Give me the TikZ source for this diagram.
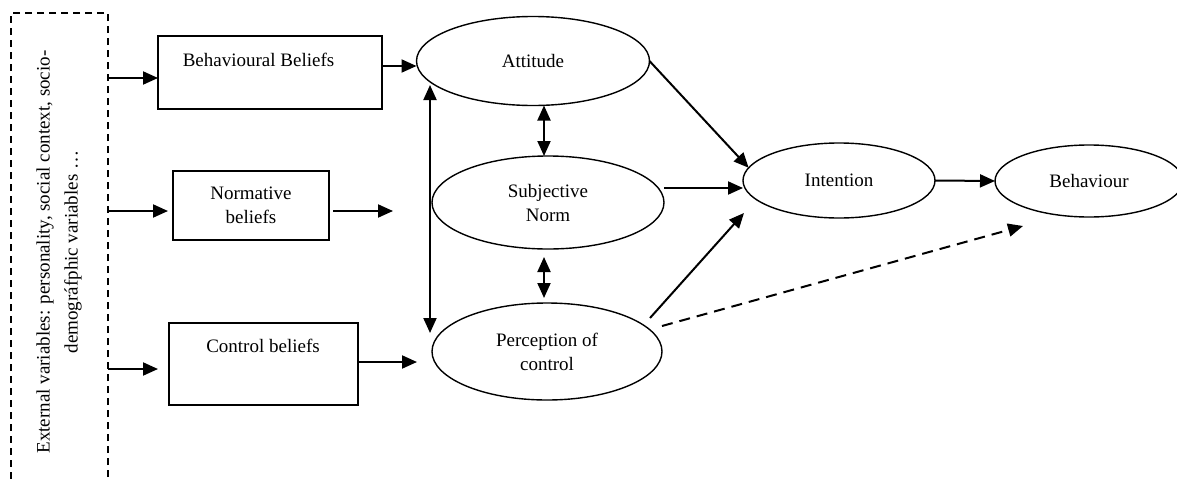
\documentclass[tikz,border=0pt]{standalone}
\usepackage{fontspec}
\setmainfont{Liberation Serif}
\usetikzlibrary{arrows.meta,shapes.geometric,calc}
\begin{document}
\begin{tikzpicture}[x=1pt,y=-1pt,
  every node/.style={font=\fontsize{19}{24}\selectfont, inner sep=0pt, outer sep=0pt},
  box/.style={draw, line width=1.6pt, rectangle, align=center},
  extbox/.style={draw, line width=1.6pt, rectangle, dash pattern=on 7pt off 5pt},
  oval/.style={draw, line width=1.4pt, ellipse, align=center},
  arr/.style={line width=2pt, -{Triangle[length=15pt,width=13pt]}},
  darr/.style={line width=2pt, {Triangle[length=15pt,width=13pt]}-{Triangle[length=15pt,width=13pt]}},
  dasharr/.style={arr, dash pattern=on 11pt off 7pt},
]
\useasboundingbox (0,0) rectangle (1177,479);
\clip (0,0) rectangle (1177,479);
\fill[white] (0,0) rectangle (1177,479);

% external variables
\node[extbox, minimum width=97pt, minimum height=487pt] (ext) at (59.5,256.5) {};
\node[rotate=90, align=center, font=\fontsize{19}{28}\selectfont] (extt) at (59,252)
  {External variables: personality, social context, socio-\\demográfphic variables …};

% belief boxes
\node[box, minimum width=224pt, minimum height=73pt] (bb) at (270,72.5) {};
\node[anchor=base] (bbt) at (258.5,66) {Behavioural Beliefs};
\node[box, minimum width=156pt, minimum height=69pt] (nb) at (251,205.5) {Normative\\beliefs};
\node[box, minimum width=189pt, minimum height=82pt] (cb) at (263.5,364) {};
\node[anchor=base] (cbt) at (263,352) {Control beliefs};

% ellipses
\node[oval, minimum width=233pt, minimum height=89pt] (att) at (533,61) {Attitude};
\node[oval, minimum width=232pt, minimum height=93pt] (sn) at (548,202.5) {Subjective\\Norm};
\node[oval, minimum width=230pt, minimum height=97pt] (pc) at (547,351.5) {Perception of\\control};
\node[oval, minimum width=192pt, minimum height=75pt] (int) at (839,180.5) {Intention};
\node[oval, minimum width=188pt, minimum height=72pt] (beh) at (1089,181) {Behaviour};

% helper coordinates
\coordinate (ya) at (0,78);
\coordinate (yb) at (0,211);
\coordinate (yc) at (0,369);
\coordinate (yd) at (0,66);
\coordinate (ye) at (0,362);
\coordinate (ys) at (0,188);
\coordinate (xm) at (544,0);
\coordinate (nbend) at (393,211);
\coordinate (lt) at (430,85);
\coordinate (lb) at (430,333);
\coordinate (p1) at (650,318);
\coordinate (i3) at (744,213);
\coordinate (d1) at (662,326);
\coordinate (d2) at (1023,226);

% connectors
\draw[arr] (ext.east |- ya) -- (bb.west |- ya);
\draw[arr, shorten >=5pt] (ext.east |- yb) -- (nb.west |- yb);
\draw[arr, shorten >=11pt] (ext.east |- yc) -- (cb.west |- yc);
\draw[arr] (bb.east |- yd) -- (att.west |- yd);
\draw[arr, shorten <=4pt] (nb.east |- nbend) -- (nbend);
\draw[arr, shorten >=15pt] (cb.east |- ye) -- (pc.west |- ye);
\draw[darr] (xm |- att.south) -- (xm |- sn.north);
\draw[darr, shorten <=8pt, shorten >=5pt] (xm |- sn.south) -- (xm |- pc.north);
\draw[darr] (lt) -- (lb);
\draw[arr] (att.east) -- (int.172);
\draw[arr] (sn.east |- ys) -- (int.west |- ys);
\draw[arr] (p1) -- (i3);
\draw[dasharr] (d1) -- (d2);
\draw[arr] (int.east) -- (beh.west);
\end{tikzpicture}
\end{document}
